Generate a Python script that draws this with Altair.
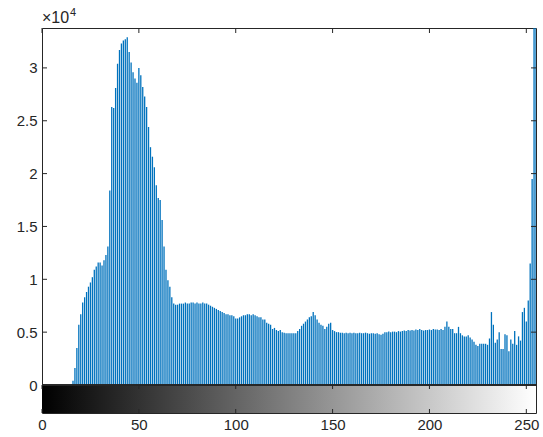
import altair as alt
import pandas as pd

# ---- data ----
levels = list(range(256))
counts_0_15 = [0, 0, 0, 0, 0, 0, 0, 0, 0, 0, 0, 0, 0, 0, 0, 0]
counts_16_35 = [400, 1600, 3500, 5700, 6700, 7800, 8300, 8800, 9300, 9700,
                10200, 10900, 11200, 11600, 11600, 11300, 11800, 12300, 13100, 18400]
counts_36_70 = [26300, 26200, 28100, 30400, 31700, 32300, 32600, 32700, 32900, 31500,
                30500, 29600, 29000, 28600, 30000, 29300, 28200, 27300, 26300, 24400,
                22500, 21600, 20600, 18900, 17700, 17500, 15600, 13100, 10900, 9900,
                9300, 8300, 7700, 7600, 7600]
counts_71_100 = [7700, 7700, 7700, 7800, 7700, 7700, 7800, 7800, 7700, 7800,
                 7700, 7700, 7800, 7700, 7700, 7600, 7500, 7400, 7300, 7200,
                 7100, 7000, 6900, 6800, 6700, 6700, 6600, 6600, 6500, 6300]
counts_101_130 = [6300, 6400, 6500, 6600, 6600, 6700, 6700, 6600, 6700, 6600,
                  6500, 6400, 6400, 6200, 6200, 5900, 5800, 5700, 5300, 5400,
                  5200, 5100, 5200, 5000, 4950, 4900, 4900, 4900, 4900, 4900]
counts_131_160 = [4900, 5100, 5300, 5600, 5800, 6000, 6200, 6400, 6500, 6900,
                  6600, 6200, 5900, 5700, 5600, 5300, 5500, 5800, 5900, 5200,
                  5100, 5000, 5000, 4950, 4950, 4900, 4950, 4900, 4950, 4900]
counts_161_204 = [4950, 4900, 4900, 4950, 4900, 4900, 4950, 4900, 4850, 4900,
                  4900, 4850, 4900, 4800, 4750, 4850, 5000, 5000, 5050, 5000,
                  5050, 5050, 5000, 5100, 5050, 5100, 5150, 5100, 5200, 5150,
                  5200, 5150, 5250, 5200, 5300, 5200, 5150, 5200, 5200, 5250,
                  5200, 5300, 5250, 5250]
counts_205_231 = [5200, 5300, 5200, 5500, 6000, 5500, 5300, 5300, 4900, 4900,
                  5500, 4900, 4700, 4600, 4600, 4700, 4500, 4300, 4100, 3800,
                  3700, 3900, 3900, 3900, 3900, 3800, 4400]
counts_232_255 = [6900, 5700, 4000, 4300, 5000, 3400, 3400, 4800, 4700, 3200,
                  4300, 3900, 5100, 3800, 4600, 4200, 6900, 7300, 6000, 8000,
                  11500, 19500, 40000, 40000]

counts = (counts_0_15 + counts_16_35 + counts_36_70 + counts_71_100 + counts_101_130
          + counts_131_160 + counts_161_204 + counts_205_231 + counts_232_255)

x_ticks = [0, 50, 100, 150, 200, 250]
y_ticks = [0, 5000, 10000, 15000, 20000, 25000, 30000]
gray_range = [0, 255]
exponent_base = ["\u00d710"]
exponent_power = ["4"]

hist = pd.DataFrame({"level": levels, "count": counts})
ramp = pd.DataFrame({"lo": [gray_range[0]], "hi": [gray_range[1]]})
xt = pd.DataFrame({"level": x_ticks})
yt = pd.DataFrame({"count": y_ticks})

W, H = 494, 385
AX = "#262626"
FONT = "Liberation Sans"
x_scale = alt.Scale(domain=[0, 255], nice=False, zero=False)
y_scale = alt.Scale(domain=[-2649, 33775], nice=False, zero=False)
xaxis = alt.Axis(values=x_ticks, title=None, labelPadding=4, labelFlush=False)
yaxis = alt.Axis(values=y_ticks, title=None, labelPadding=5,
                 labelExpr="datum.value / 10000")

X = alt.X("level:Q", scale=x_scale, axis=xaxis)
Y = alt.Y("count:Q", scale=y_scale, axis=yaxis)

bars = alt.Chart(hist).mark_rule(color="#0072BD", strokeWidth=1.3, clip=True).encode(
    x=X, y=Y, y2=alt.datum(0)
)

gradient = alt.Chart(ramp).mark_rect(
    color=alt.Gradient(
        gradient="linear",
        stops=[alt.GradientStop(color="#000000", offset=0),
               alt.GradientStop(color="#ffffff", offset=1)],
        x1=0, x2=1, y1=0, y2=0,
    )
).encode(
    x=alt.X("lo:Q", scale=x_scale, axis=xaxis), x2="hi:Q",
    y=alt.datum(0), y2=alt.datum(-2649),
)

divider = alt.Chart(xt).mark_rule(color=AX, strokeWidth=1).encode(
    x=alt.value(0), x2=alt.value(W), y=alt.datum(0)
)

tick_style = dict(color=AX, strokeWidth=1)
top_ticks = alt.Chart(xt).mark_rule(**tick_style).encode(x=X, y=alt.value(0), y2=alt.value(5))
ramp_top_ticks = alt.Chart(xt).mark_rule(**tick_style).encode(x=X, y=alt.value(357), y2=alt.value(361))
ramp_bot_ticks = alt.Chart(xt).mark_rule(**tick_style).encode(x=X, y=alt.value(381), y2=alt.value(385))
left_ticks = alt.Chart(yt).mark_rule(**tick_style).encode(y=Y, x=alt.value(0), x2=alt.value(5))
right_ticks = alt.Chart(yt).mark_rule(**tick_style).encode(y=Y, x=alt.value(W - 5), x2=alt.value(W))

exp_base = alt.Chart(pd.DataFrame({"t": exponent_base})).mark_text(
    align="left", baseline="alphabetic", fontSize=16, font=FONT, color=AX
).encode(text="t:N", x=alt.value(0), y=alt.value(-5))
exp_pow = alt.Chart(pd.DataFrame({"t": exponent_power})).mark_text(
    align="left", baseline="alphabetic", fontSize=11, font=FONT, color=AX
).encode(text="t:N", x=alt.value(28), y=alt.value(-12))

chart = alt.layer(
    gradient, bars, divider, top_ticks, ramp_top_ticks, ramp_bot_ticks,
    left_ticks, right_ticks, exp_base, exp_pow
).properties(
    width=W, height=H,
    autosize=alt.AutoSizeParams(type="none"),
    padding={"left": 42, "top": 28, "right": 7, "bottom": 24},
).configure_view(
    stroke=AX, strokeWidth=1
).configure_axis(
    grid=False, ticks=False, domain=False,
    labelFont=FONT, labelFontSize=15, labelColor=AX,
)

chart.save("out.html", embed_options={"renderer": "svg", "actions": False})
